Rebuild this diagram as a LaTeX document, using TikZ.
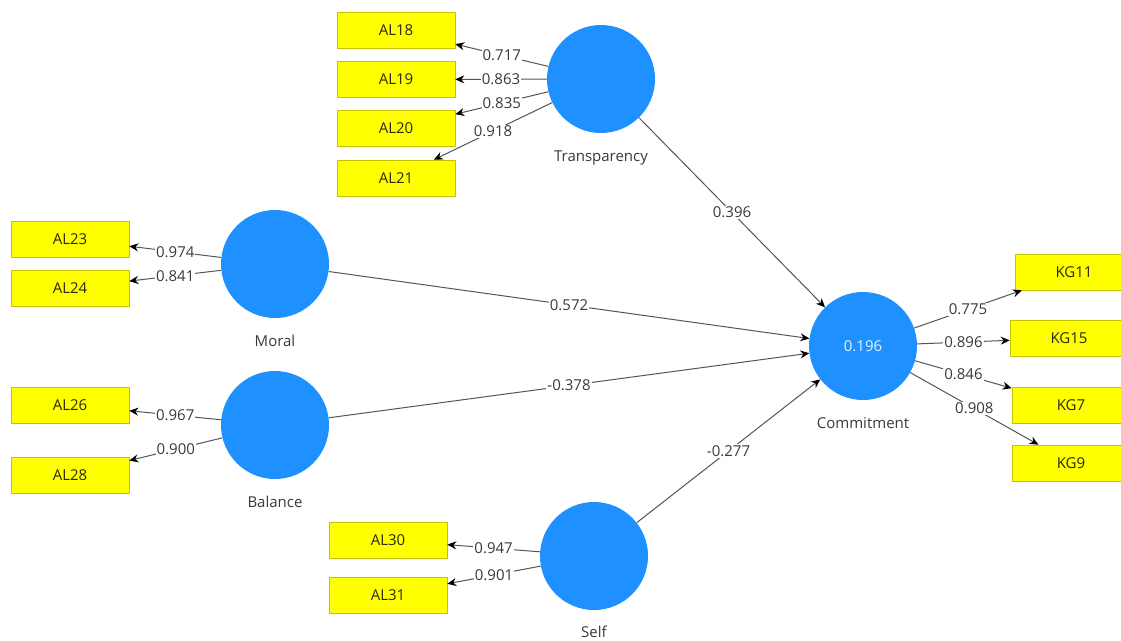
\documentclass[tikz,border=0pt]{standalone}
\usepackage{fontspec}
\setmainfont{Open Sans}
\usetikzlibrary{positioning,arrows.meta}
\definecolor{latent}{HTML}{1E90FF}
\definecolor{indic}{HTML}{FFFF00}
\definecolor{indicline}{HTML}{C4C400}
\definecolor{pathgray}{HTML}{555555}
\definecolor{ink}{HTML}{3A3A3A}
\definecolor{mvink}{HTML}{2A2A10}

\begin{document}
\begin{tikzpicture}[
  x=1pt, y=-1pt,
  font=\fontsize{15}{18}\selectfont,
  >={Stealth[length=9pt,width=8pt,color=black]},
  lv/.style  ={circle, fill=latent, minimum size=108pt, inner sep=0pt, text=white!90!latent},
  mv/.style  ={rectangle, draw=indicline, line width=0.6pt, fill=indic,
               minimum width=118pt, minimum height=36pt, inner sep=0pt, text=mvink},
  lbl/.style ={text=ink, inner sep=2pt},
  load/.style={->, draw=pathgray, line width=1pt},
  coef/.style={midway, fill=white, inner sep=1pt, text=ink},
]
  \useasboundingbox (0,0) rectangle (1121,640);
  \clip (0,0) rectangle (1121,640);
  \fill[white] (0,0) rectangle (1121,640);

  % --- latent variables ---
  \node[lv] (trans)  at (601,79)  {};
  \node[lv] (moral)  at (275,264) {};
  \node[lv] (bal)    at (275,425) {};
  \node[lv] (self)   at (594,556) {};
  \node[lv] (commit) at (863,346) {0.196};

  \node[lbl, below=15pt of trans]  (transL)  {Transparency};
  \node[lbl, below=15pt of moral]  (moralL)  {Moral};
  \node[lbl, below=15pt of bal]    (balL)    {Balance};
  \node[lbl, below=14pt of self]   (selfL)   {Self};
  \node[lbl, below=15pt of commit] (commitL) {Commitment};

  % --- indicators ---
  \node[mv] (al18) at (396,30)    {AL18};
  \node[mv] (al19) at (396,79.5)  {AL19};
  \node[mv] (al20) at (396,128.5) {AL20};
  \node[mv] (al21) at (396,178)   {AL21};
  \node[mv] (al23) at (70,239)    {AL23};
  \node[mv] (al24) at (70,288)    {AL24};
  \node[mv] (al26) at (70,405)    {AL26};
  \node[mv] (al28) at (70,475)    {AL28};
  \node[mv] (al30) at (388,540)   {AL30};
  \node[mv] (al31) at (388,595)   {AL31};
  \node[mv] (kg11) at (1074,272)  {KG11};
  \node[mv] (kg15) at (1069,338)  {KG15};
  \node[mv] (kg7)  at (1071,405)  {KG7};
  \node[mv] (kg9)  at (1071,463)  {KG9};

  % --- outer loadings ---
  \draw[load] (trans) -- (al18) node[coef] {0.717};
  \draw[load] (trans) -- (al19) node[coef] {0.863};
  \draw[load] (trans) -- (al20) node[coef] {0.835};
  \draw[load] (trans) -- (al21) node[coef] {0.918};
  \draw[load] (moral) -- (al23) node[coef] {0.974};
  \draw[load] (moral) -- (al24) node[coef] {0.841};
  \draw[load] (bal)   -- (al26) node[coef] {0.967};
  \draw[load] (bal)   -- (al28) node[coef] {0.900};
  \draw[load] (self)  -- (al30) node[coef] {0.947};
  \draw[load] (self)  -- (al31) node[coef] {0.901};
  \draw[load] (commit) -- (kg11) node[coef] {0.775};
  \draw[load] (commit) -- (kg15) node[coef] {0.896};
  \draw[load] (commit) -- (kg7)  node[coef] {0.846};
  \draw[load] (commit) -- (kg9)  node[coef] {0.908};

  % --- path coefficients ---
  \draw[load] (trans) -- (commit) node[coef] {0.396};
  \draw[load] (moral) -- (commit) node[coef] {0.572};
  \draw[load] (bal)   -- (commit) node[coef] {-0.378};
  \draw[load] (self)  -- (commit) node[coef] {-0.277};
\end{tikzpicture}
\end{document}
